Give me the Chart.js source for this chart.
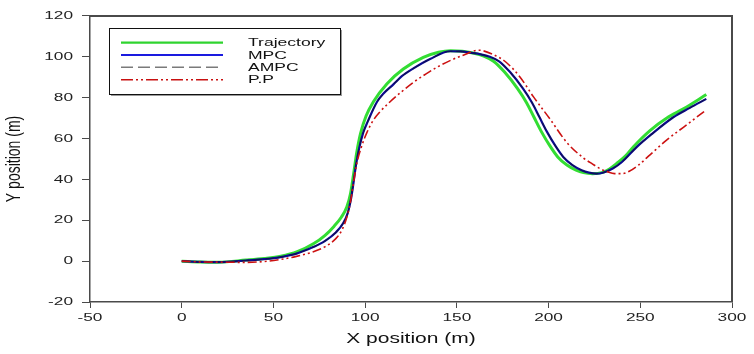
<!DOCTYPE html>
<html>
<head>
<meta charset="utf-8">
<script src="https://cdn.jsdelivr.net/npm/chart.js@4/dist/chart.umd.min.js"></script>
<style>
html,body{margin:0;padding:0;background:#fff;}
canvas{display:block;}
</style>
</head>
<body>
<canvas id="c" width="754" height="354"></canvas>
<script>
// ---- Data ----
const seriesNames = ["Trajectory", "MPC", "AMPC", "P.P"];
const xTicks = [-50, 0, 50, 100, 150, 200, 250, 300];
const yTicks = [-20, 0, 20, 40, 60, 80, 100, 120];

const trajX = [0, 10, 20, 35, 45, 54, 63, 72, 78, 83, 87, 90, 92, 93.6, 95.4, 97.5, 100.5, 104.5, 111.8, 120.8, 131.7, 140, 146.5, 153, 160, 165, 170, 176, 183, 188, 192, 196, 201, 205, 210, 215, 219, 224, 229, 233, 237, 242, 246.3, 255.3, 264.5, 273.5, 286];
const trajY = [0, -0.4, -0.5, 0.5, 1.3, 2.4, 4.6, 8.6, 12.5, 17, 21.5, 26.5, 33, 42, 53, 62.5, 71, 78, 86.7, 94, 99.7, 102.2, 103, 102.7, 101.6, 100.2, 97.8, 92.5, 84.5, 77.5, 70.5, 63.5, 56, 51, 47, 44.5, 43.3, 42.8, 43.3, 45, 47.7, 51.5, 56, 63.9, 70, 74.5, 81.5];

const mpcX = [0, 10, 20, 35, 45, 54, 63, 72, 78, 84, 88, 90.5, 92.2, 93.6, 95, 96.8, 99, 101.5, 106.5, 110, 115.4, 120, 126.3, 135.4, 146.3, 152, 158, 163, 168, 173, 179, 186, 191, 195, 199, 204, 208, 213, 218, 222, 226, 230, 235, 240, 248, 256, 268, 277, 286];
const mpcY = [0, -0.4, -0.5, 0.3, 1.0, 2.0, 3.8, 7, 9.8, 14, 18.5, 23.5, 30, 38, 47, 55.5, 63, 68.5, 78, 82, 86.5, 90.5, 94.3, 98.9, 102.7, 102.6, 101.9, 101.2, 100, 97.8, 92.5, 84.5, 77.5, 70.5, 63.5, 56, 51, 47, 44.5, 43.3, 42.8, 43.4, 45.3, 48.5, 55.8, 62, 70.4, 75, 79.4];

const ampcX = mpcX.slice();
const ampcY = mpcY.slice();

const ppX = [0, 10, 20, 35, 45, 53.6, 62, 71.8, 78, 84, 87.5, 90, 92, 93.6, 95.4, 98, 101, 104.5, 108, 113.6, 120, 126.3, 133, 139, 146, 153.5, 162, 170, 177, 184.5, 191.7, 200.8, 210, 219, 224, 228, 232, 236, 240, 244, 249, 255.3, 264, 273.5, 285.5];
const ppY = [0, -0.4, -0.5, -0.6, -0.2, 0.8, 2.2, 4.6, 7, 11, 15.5, 21.5, 29, 38, 47.6, 56, 63, 69, 73, 78, 83, 87.5, 91.5, 94.8, 98, 100.8, 103.2, 101, 97.2, 90, 80.5, 69.5, 58, 50.5, 47.5, 45.3, 43.8, 42.8, 42.8, 44, 47, 52, 59, 65.5, 73.7];

function pts(xs, ys) { return xs.map((x, i) => ({x: x, y: ys[i]})); }

// ---- Horizontal text stretch (the reference figure is horizontally stretched) ----
const canvas = document.getElementById('c');
const ctx = canvas.getContext('2d');
const SX = 1.5;
const origFill = CanvasRenderingContext2D.prototype.fillText;
CanvasRenderingContext2D.prototype.fillText = function (t, x, y, mw) {
  const m = this.getTransform();
  const p = m.transformPoint(new DOMPoint(x, y));
  this.save();
  this.setTransform(new DOMMatrix().translate(p.x, p.y).scale(SX, 1).translate(-p.x, -p.y).multiply(m));
  if (mw === undefined || mw === null) origFill.call(this, t, x, y);
  else origFill.call(this, t, x, y, mw);
  this.restore();
};

const FONT = "'Liberation Sans', Arial, sans-serif";
const AXIS = '#4a4a4a';

const frameLegend = {
  id: 'frameLegend',
  afterDraw(chart) {
    const c = chart.ctx;
    const a = chart.chartArea;
    c.save();
    // top and right frame lines
    c.strokeStyle = AXIS;
    c.lineWidth = 2;
    c.beginPath();
    c.moveTo(a.left, a.top);
    c.lineTo(a.right, a.top);
    c.lineTo(a.right, a.bottom);
    c.stroke();

    // legend box with drop shadow
    const bx = 109, by = 28, bw = 231, bh = 66;
    c.fillStyle = '#9a9a9a';
    c.fillRect(bx + 2, by + 2, bw, bh);
    c.fillStyle = '#ffffff';
    c.fillRect(bx, by, bw, bh);
    c.strokeStyle = '#111';
    c.lineWidth = 1;
    c.strokeRect(bx + 0.5, by + 0.5, bw, bh);

    const rows = [42.7, 55, 67.3, 79.7];
    const styles = [
      {color: '#2fd42f', width: 2.2, dash: []},
      {color: '#1a1adf', width: 2, dash: []},
      {color: '#7a7a7a', width: 1.5, dash: [12, 5]},
      {color: '#c81010', width: 1.5, dash: [12, 3, 2, 3, 2, 3]}
    ];
    for (let i = 0; i < 4; i++) {
      const s = styles[i];
      c.strokeStyle = s.color;
      c.lineWidth = s.width;
      c.setLineDash(s.dash);
      c.beginPath();
      c.moveTo(121, rows[i]);
      c.lineTo(223, rows[i]);
      c.stroke();
    }
    c.setLineDash([]);
    c.fillStyle = '#111';
    c.font = '11.7px ' + FONT;
    c.textAlign = 'left';
    c.textBaseline = 'middle';
    for (let i = 0; i < 4; i++) {
      c.fillText(seriesNames[i], 248, rows[i] + 0.5);
    }
    c.restore();
  }
};

new Chart(ctx, {
  type: 'line',
  data: {
    datasets: [
      {label: seriesNames[0], data: pts(trajX, trajY), borderColor: '#33dd33', borderWidth: 3, pointRadius: 0, cubicInterpolationMode: 'monotone', order: 4},
      {label: seriesNames[1], data: pts(mpcX, mpcY), borderColor: '#0a0a90', borderWidth: 2.2, pointRadius: 0, cubicInterpolationMode: 'monotone', order: 3},
      {label: seriesNames[2], data: pts(ampcX, ampcY), borderColor: 'rgba(20,20,40,0.55)', borderWidth: 1.2, borderDash: [8, 4], pointRadius: 0, cubicInterpolationMode: 'monotone', order: 2},
      {label: seriesNames[3], data: pts(ppX, ppY), borderColor: '#cc1111', borderWidth: 1.6, borderDash: [9, 3, 2, 3, 2, 3], pointRadius: 0, cubicInterpolationMode: 'monotone', order: 1}
    ]
  },
  options: {
    responsive: false,
    animation: false,
    devicePixelRatio: 1,
    layout: {padding: {left: 0, right: 22, top: 15, bottom: 0}},
    plugins: {legend: {display: false}, tooltip: {enabled: false}},
    scales: {
      x: {
        type: 'linear',
        min: -50, max: 300,
        afterBuildTicks(s) { s.ticks = xTicks.map(v => ({value: v})); },
        afterFit(s) { s.height = 52; },
        grid: {drawOnChartArea: false, drawTicks: true, tickLength: 6, color: AXIS, lineWidth: 1},
        border: {display: true, color: AXIS, width: 1.5},
        ticks: {color: '#222', font: {family: FONT, size: 11.5}, padding: 3, maxRotation: 0, autoSkip: false},
        title: {display: true, text: 'X position (m)', color: '#111', font: {family: FONT, size: 14}, padding: {top: 0, bottom: 6}}
      },
      y: {
        type: 'linear',
        min: -20, max: 120,
        afterBuildTicks(s) { s.ticks = yTicks.map(v => ({value: v})); },
        afterFit(s) { s.width = 90; },
        grid: {drawOnChartArea: false, drawTicks: true, tickLength: 8, color: AXIS, lineWidth: 1},
        border: {display: true, color: AXIS, width: 1.5},
        ticks: {color: '#222', font: {family: FONT, size: 11.5}, padding: 9, autoSkip: false},
        title: {display: true, text: 'Y position (m)', color: '#111', font: {family: FONT, size: 14}, padding: {top: 6, bottom: 0}}
      }
    }
  },
  plugins: [frameLegend]
});
</script>
</body>
</html>
